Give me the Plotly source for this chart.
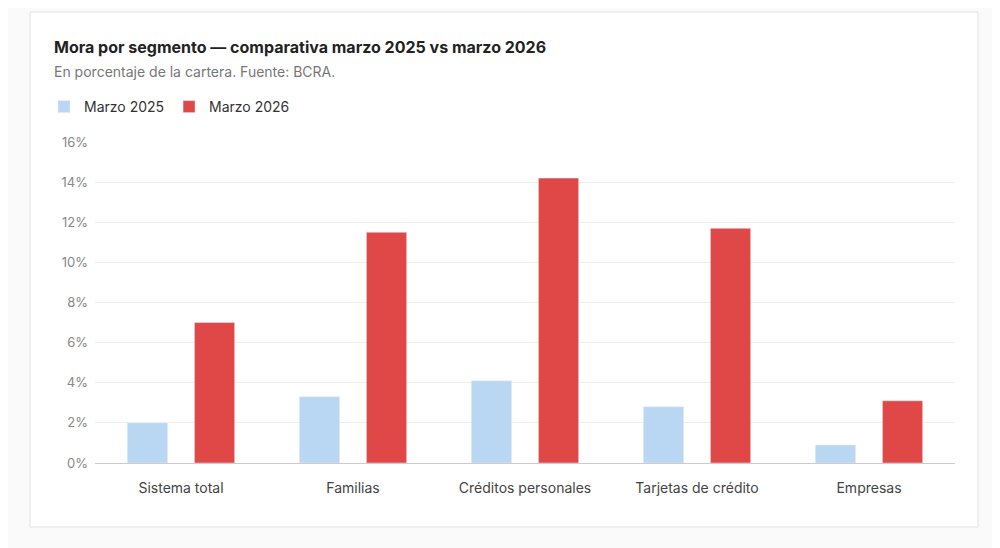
import plotly.graph_objects as go

categories = ["Sistema total", "Familias", "Créditos personales", "Tarjetas de crédito", "Empresas"]
mar_2025 = [2.0, 3.3, 4.1, 2.8, 0.9]
mar_2026 = [7.0, 11.5, 14.2, 11.7, 3.1]
tick_vals = [0, 2, 4, 6, 8, 10, 12, 14, 16]
tick_text = ["0%", "2%", "4%", "6%", "8%", "10%", "12%", "14%", "16%"]

fig = go.Figure()
fig.add_bar(x=categories, y=mar_2025, name="Marzo 2025", marker_color="#b9d7f3")
fig.add_bar(x=categories, y=mar_2026, name="Marzo 2026", marker_color="#e04848")

OFF = 8
L, R, T, B = 95 - OFF, 45 + OFF, 142 - OFF, 85 + OFF
W, H = 1000 - L - R, 548 - T - B
def px(x): return (x - OFF - L) / W
def py(y): return (548 - B - (y - OFF)) / H

fig.update_layout(
    width=1000, height=548,
    margin=dict(l=L, r=R, t=T, b=B),
    paper_bgcolor="#fafafa", plot_bgcolor="white",
    font=dict(family="Inter, Roboto, sans-serif", size=14, color="#444"),
    barmode="group", bargap=0.22, bargroupgap=0.4,
    showlegend=True,
    legend=dict(orientation="h", x=px(44), y=py(107), xanchor="left", yanchor="middle",
                font=dict(size=14, color="#333"), itemwidth=30, bgcolor="rgba(0,0,0,0)"),
    xaxis=dict(showgrid=False, showline=True, linecolor="#ccc", ticks="",
               tickfont=dict(size=14, color="#444"), ticklabelstandoff=12),
    yaxis=dict(range=[0, 16], tickvals=tick_vals, ticktext=tick_text, gridcolor="#eeeeee",
               zeroline=False, tickfont=dict(size=13, color="#888"), ticklabelstandoff=6),
    shapes=[dict(type="rect", xref="paper", yref="paper", x0=px(30), x1=px(978),
                 y0=py(527), y1=py(12), line=dict(color="#e2e2e2", width=1),
                 fillcolor="white", layer="below")],
    annotations=[
        dict(text="<b>Mora por segmento — comparativa marzo 2025 vs marzo 2026</b>",
             xref="paper", yref="paper", x=px(52), y=py(47), xanchor="left", yanchor="middle",
             showarrow=False, font=dict(size=16, color="#222")),
        dict(text="En porcentaje de la cartera. Fuente: BCRA.",
             xref="paper", yref="paper", x=px(52), y=py(71), xanchor="left", yanchor="middle",
             showarrow=False, font=dict(size=14, color="#777")),
    ],
)
fig.write_html("out.html")
